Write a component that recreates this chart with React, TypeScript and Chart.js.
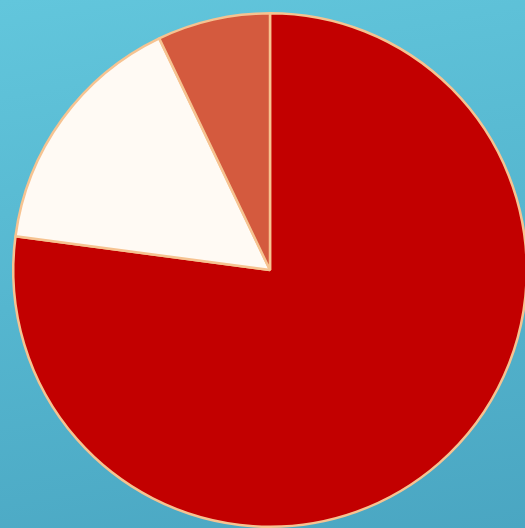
import React, { useEffect, useRef } from "react";
import { Chart, registerables } from "chart.js";

Chart.register(...registerables);

const categories = ["A", "B", "C"];
const values = [77.1, 15.8, 7.1];
const colors = ["#c20000", "#fffaf4", "#d45a3e"];

export default function App() {
  const ref = useRef<HTMLCanvasElement | null>(null);
  useEffect(() => {
    if (!ref.current) return;
    const chart = new Chart(ref.current, {
      type: "pie",
      data: {
        labels: categories,
        datasets: [
          {
            data: values,
            backgroundColor: colors,
            borderColor: "#f6c391",
            borderWidth: 2.5,
          },
        ],
      },
      options: {
        animation: false,
        responsive: false,
        devicePixelRatio: 1,
        layout: { padding: 12 },
        plugins: { legend: { display: false }, tooltip: { enabled: false } },
      },
    });
    return () => chart.destroy();
  }, []);
  return (
    <div
      style={{
        position: "fixed",
        left: 0,
        top: 0,
        width: 525,
        height: 528,
        overflow: "hidden",
        background: "linear-gradient(170deg, #62c6dc 0%, #55b6cf 50%, #4aa6c2 100%)",
      }}
    >
      <canvas ref={ref} width={540} height={540} style={{ display: "block", width: 540, height: 540 }} />
    </div>
  );
}
